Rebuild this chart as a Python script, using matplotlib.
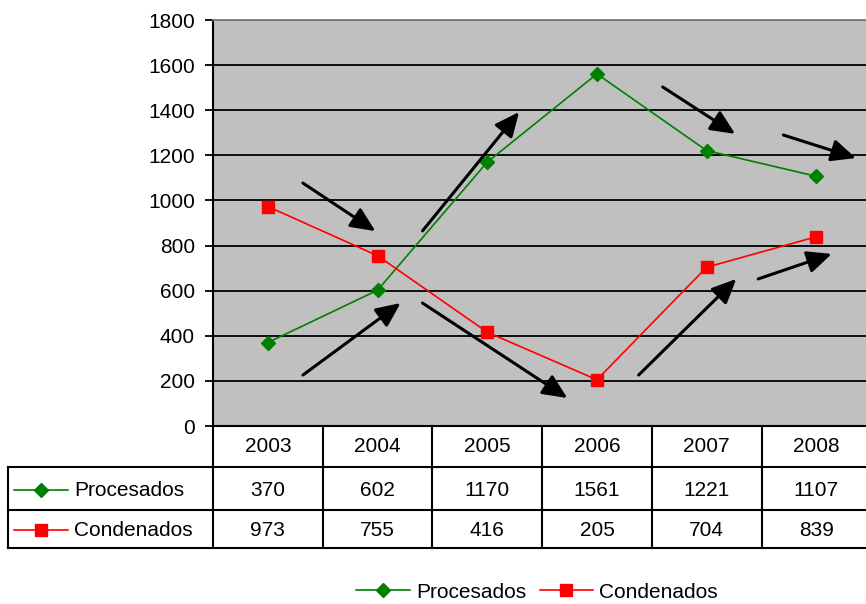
import matplotlib
matplotlib.use("Agg")
import matplotlib.pyplot as plt
from matplotlib.lines import Line2D
from matplotlib.patches import FancyArrowPatch
from matplotlib.transforms import blended_transform_factory

plt.rcParams['font.family'] = ['Liberation Sans', 'DejaVu Sans']

years = ['2003', '2004', '2005', '2006', '2007', '2008']
procesados = [370, 602, 1170, 1561, 1221, 1107]
condenados = [973, 755, 416, 205, 704, 839]
series_names = ['Procesados', 'Condenados']

# trend arrows (tail x, tail y, head x, head y) in data units
trend_arrows = [
    (0.82, 1077, 1.48, 864),
    (0.82, 226, 1.71, 545),
    (1.91, 865, 2.79, 1392),
    (1.91, 545, 3.23, 124),
    (4.10, 1503, 4.76, 1295),
    (5.20, 1290, 5.86, 1188),
    (3.88, 226, 4.77, 652),
    (4.97, 652, 5.64, 763),
]

W, H = 866, 604
GREEN = '#008000'
RED = '#FF0000'
FS = 15

fig = plt.figure(figsize=(W / 100, H / 100), dpi=100)
fig.patch.set_facecolor('white')

ax_left, ax_top, ax_bottom = 213, 20, 426
col_w = 109.7
ax_right = ax_left + col_w * len(years)
ax = fig.add_axes([ax_left / W, 1 - ax_bottom / H,
                   (ax_right - ax_left) / W, (ax_bottom - ax_top) / H])
ax.set_facecolor('#C0C0C0')
ax.set_xlim(0, len(years))
ax.set_ylim(0, 1800)
ax.set_yticks(range(0, 1801, 200))
ax.set_xticks([])
ax.tick_params(axis='y', length=6, width=1.3, pad=7, labelsize=FS)
for y in range(200, 1801, 200):
    ax.axhline(y, color='black', lw=1.3, zorder=1)
for s in ['right', 'bottom']:
    ax.spines[s].set_visible(False)
ax.spines['top'].set_color('#808080')
ax.spines['top'].set_linewidth(1.3)
ax.spines['left'].set_linewidth(1.5)

xs = [i + 0.5 for i in range(len(years))]
ax.plot(xs, procesados, color=GREEN, lw=1.2, marker='D', ms=7.5,
        mec=GREEN, mfc=GREEN, zorder=3)
ax.plot(xs, condenados, color=RED, lw=1.2, marker='s', ms=8,
        mec=RED, mfc=RED, zorder=3)

for x0, y0, x1, y1 in trend_arrows:
    arrow = FancyArrowPatch((x0, y0), (x1, y1),
                            arrowstyle='-|>,head_length=0.55,head_width=0.25',
                            mutation_scale=27, lw=2.2, ec='black', fc='black',
                            shrinkA=0, shrinkB=0, zorder=4, clip_on=False)
    ax.add_patch(arrow)

# data table under the axis
tr = blended_transform_factory(ax.transData, fig.transFigure)


def fy(py):
    return 1 - py / H


def fx(px):
    return px / W


row_tops = [426, 467, 510, 548]
table_left = 8
lw_t = 1.5
# horizontal rules
fig.add_artist(Line2D([fx(ax_left), fx(ax_right)], [fy(426)] * 2,
                      color='black', lw=lw_t))
for py in row_tops[1:]:
    fig.add_artist(Line2D([fx(table_left), fx(ax_right)], [fy(py)] * 2,
                          color='black', lw=lw_t))
# vertical rules
fig.add_artist(Line2D([fx(table_left)] * 2, [fy(467), fy(548)],
                      color='black', lw=lw_t))
for i in range(len(years) + 1):
    fig.add_artist(Line2D([i, i], [fy(426), fy(548)], transform=tr,
                          color='black', lw=lw_t))

row_centers = [447, 490, 530]
for i, yr in enumerate(years):
    fig.text(xs[i], fy(row_centers[0]), yr, transform=tr,
             ha='center', va='center', fontsize=FS)
    fig.text(xs[i], fy(row_centers[1]), str(procesados[i]), transform=tr,
             ha='center', va='center', fontsize=FS)
    fig.text(xs[i], fy(row_centers[2]), str(condenados[i]), transform=tr,
             ha='center', va='center', fontsize=FS)

# row keys
for (name, color, mk, ms), yc in zip(
        [(series_names[0], GREEN, 'D', 7.5), (series_names[1], RED, 's', 8)],
        row_centers[1:]):
    fig.add_artist(Line2D([fx(14), fx(68)], [fy(yc)] * 2, color=color, lw=1.2))
    fig.add_artist(Line2D([fx(41)], [fy(yc)], color=color, marker=mk, ms=ms,
                          mec=color, mfc=color))
    fig.text(fx(74), fy(yc), name, ha='left', va='center', fontsize=FS)

# bottom legend
handles = [Line2D([], [], color=GREEN, lw=1.2, marker='D', ms=7.5),
           Line2D([], [], color=RED, lw=1.2, marker='s', ms=8)]
fig.legend(handles, series_names, loc='center', ncol=2, frameon=False,
           bbox_to_anchor=(fx(537), fy(592)), fontsize=FS,
           handlelength=2.55, handletextpad=0.3, columnspacing=0.65)

fig.savefig('out.png', dpi=100)
